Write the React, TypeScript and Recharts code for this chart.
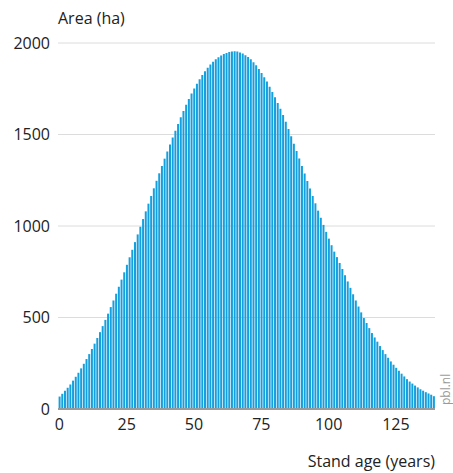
import React from "react";
import { BarChart, Bar, XAxis, YAxis, CartesianGrid } from "recharts";

const ages: number[] = [
  0, 1, 2, 3, 4, 5, 6, 7, 8, 9, 10, 11, 12, 13, 14, 15, 16, 17, 18, 19,
  20, 21, 22, 23, 24, 25, 26, 27, 28, 29, 30, 31, 32, 33, 34, 35, 36, 37, 38, 39,
  40, 41, 42, 43, 44, 45, 46, 47, 48, 49, 50, 51, 52, 53, 54, 55, 56, 57, 58, 59,
  60, 61, 62, 63, 64, 65, 66, 67, 68, 69, 70, 71, 72, 73, 74, 75, 76, 77, 78, 79,
  80, 81, 82, 83, 84, 85, 86, 87, 88, 89, 90, 91, 92, 93, 94, 95, 96, 97, 98, 99,
  100, 101, 102, 103, 104, 105, 106, 107, 108, 109, 110, 111, 112, 113, 114, 115, 116, 117, 118, 119,
  120, 121, 122, 123, 124, 125, 126, 127, 128, 129, 130, 131, 132, 133, 134, 135, 136, 137, 138, 139,
];

const areaHa: number[] = [
  68, 83, 100, 116, 134, 155, 176, 198, 222, 247,
  273, 300, 328, 357, 388, 420, 453, 487, 521, 557,
  593, 630, 668, 707, 747, 788, 829, 870, 912, 954,
  996, 1038, 1080, 1122, 1164, 1206, 1247, 1288, 1328, 1368,
  1407, 1446, 1484, 1521, 1558, 1594, 1629, 1662, 1694, 1724,
  1752, 1778, 1802, 1825, 1846, 1865, 1882, 1897, 1911, 1922,
  1932, 1940, 1946, 1951, 1954, 1955, 1953, 1948, 1942, 1933,
  1924, 1911, 1895, 1878, 1858, 1836, 1813, 1789, 1761, 1732,
  1703, 1672, 1641, 1606, 1569, 1530, 1490, 1450, 1410, 1369,
  1328, 1287, 1246, 1205, 1164, 1124, 1084, 1045, 1006, 968,
  931, 895, 860, 830, 798, 765, 731, 697, 662, 627,
  593, 560, 528, 497, 470, 442, 415, 391, 368, 344,
  322, 300, 280, 260, 242, 225, 209, 193, 178, 163,
  150, 139, 128, 118, 108, 100, 92, 85, 78, 70,
];

const xTicks: number[] = [0, 25, 50, 75, 100, 125];
const yTicks: number[] = [0, 500, 1000, 1500, 2000];

const data = ages.map((age, i) => ({ age, area: areaHa[i] }));

const FONT = "'Open Sans', 'Noto Sans', sans-serif";

export default function App() {
  return (
    <div style={{ position: "relative", width: 453, height: 473, fontFamily: FONT }}>
      <style>{"body{margin:0;}"}</style>
      <BarChart
        width={453}
        height={473}
        data={data}
        margin={{ top: 43, right: 18, bottom: 34, left: 0 }}
        barCategoryGap="22%"
      >
        <CartesianGrid vertical={false} stroke="#dcdcdc" strokeWidth={1} />
        <XAxis
          dataKey="age"
          type="category"
          ticks={xTicks}
          interval={0}
          tickLine={false}
          axisLine={{ stroke: "#9a9a9a", strokeWidth: 2 }}
          tick={{ fill: "#222", fontSize: 16, fontFamily: FONT }}
          tickMargin={4}
          height={30}
        />
        <YAxis
          domain={[0, 2000]}
          ticks={yTicks}
          interval={0}
          tickLine={false}
          axisLine={false}
          width={58}
          tick={{ fill: "#222", fontSize: 16, fontFamily: FONT }}
        />
        <Bar dataKey="area" fill="#14a0de" isAnimationActive={false} />
      </BarChart>
      <div
        style={{
          position: "absolute",
          left: 58,
          top: 6,
          fontSize: 16,
          color: "#222",
          lineHeight: "24px",
        }}
      >
        Area (ha)
      </div>
      <div
        style={{
          position: "absolute",
          right: 18,
          top: 449,
          fontSize: 16,
          color: "#222",
          lineHeight: "24px",
          whiteSpace: "nowrap",
        }}
      >
        Stand age (years)
      </div>
      <div
        style={{
          position: "absolute",
          left: 439,
          top: 405,
          transform: "rotate(-90deg)",
          transformOrigin: "0 0",
          fontSize: 12,
          color: "#9a9a9a",
          lineHeight: "13px",
          whiteSpace: "nowrap",
        }}
      >
        pbl.nl
      </div>
    </div>
  );
}
